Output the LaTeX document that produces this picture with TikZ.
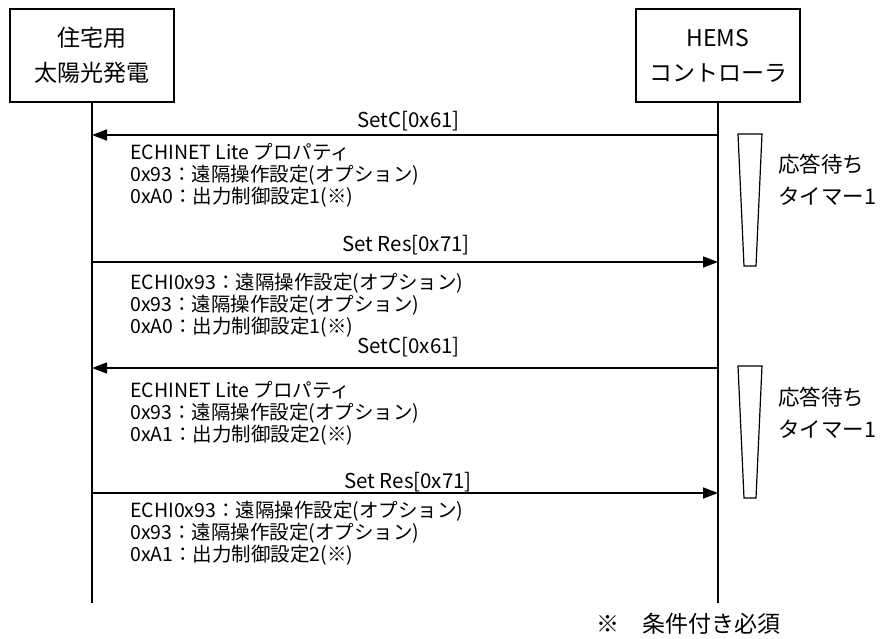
\documentclass[tikz,border=0pt]{standalone}
\usepackage{fontspec}
\setmainfont{Noto Sans CJK JP}
\usetikzlibrary{arrows.meta}
\begin{document}
\begin{tikzpicture}[x=1pt,y=-1pt,
  actor/.style={draw,line width=1.6pt,minimum width=164pt,minimum height=93pt,align=center,inner sep=0pt,font=\fontsize{23}{35}\selectfont},
  life/.style={line width=1.6pt},
  msg/.style={line width=1.6pt,-{Triangle[length=15pt,width=11pt]}},
  lbl/.style={anchor=east,inner sep=0pt,font=\fontsize{20.5}{24}\selectfont},
  info/.style={anchor=west,align=left,inner sep=0pt,font=\fontsize{19.5}{22}\selectfont},
  timer/.style={line width=1.2pt},
  tlabel/.style={anchor=west,align=left,inner sep=0pt,font=\fontsize{21.5}{32}\selectfont}]
\useasboundingbox (0,0) rectangle (881,638);
\node[actor] (pv) at (92,55.5) {住宅用\\太陽光発電};
\node[actor] (hems) at (718,55.5) {HEMS\\コントローラ};
\coordinate (pvEnd) at (92,603);
\coordinate (hemsEnd) at (718,603);
\draw[life] (pv.south) -- (pvEnd);
\draw[life] (hems.south) -- (hemsEnd);
% message anchor points
\coordinate (L1) at (92,135);  \coordinate (R1) at (718,135);
\coordinate (L2) at (92,262);  \coordinate (R2) at (718,262);
\coordinate (L3) at (92,368);  \coordinate (R3) at (718,368);
\coordinate (L4) at (92,493);  \coordinate (R4) at (718,493);
\draw[msg] (R1) -- (L1);
\draw[msg] (L2) -- (R2);
\draw[msg] (R3) -- (L3);
\draw[msg] (L4) -- (R4);
\node[lbl] (m1) at (460,121) {SetC[0x61]};
\node[lbl] (m2) at (470,245) {Set Res[0x71]};
\node[lbl] (m3) at (460,347) {SetC[0x61]};
\node[lbl] (m4) at (472,482) {Set Res[0x71]};
\node[info] (i1) at (130,175) {ECHINET Lite プロパティ\\0x93：遠隔操作設定(オプション)\\0xA0：出力制御設定1(※)};
\node[info] (i2) at (130,305) {ECHI0x93：遠隔操作設定(オプション)\\0x93：遠隔操作設定(オプション)\\0xA0：出力制御設定1(※)};
\node[info] (i3) at (130,413) {ECHINET Lite プロパティ\\0x93：遠隔操作設定(オプション)\\0xA1：出力制御設定2(※)};
\node[info] (i4) at (130,533) {ECHI0x93：遠隔操作設定(オプション)\\0x93：遠隔操作設定(オプション)\\0xA1：出力制御設定2(※)};
% timers
\draw[timer] (738,134) -- (762,134) -- (756,266) -- (744,266) -- cycle;
\draw[timer] (738,366) -- (762,366) -- (756,498) -- (744,498) -- cycle;
\node[tlabel] (t1) at (778,180) {応答待ち\\タイマー1};
\node[tlabel] (t2) at (778,413) {応答待ち\\タイマー1};
\node[anchor=west,inner sep=0pt,font=\fontsize{23}{28}\selectfont] (note) at (596,624) {※　条件付き必須};
\end{tikzpicture}
\end{document}
